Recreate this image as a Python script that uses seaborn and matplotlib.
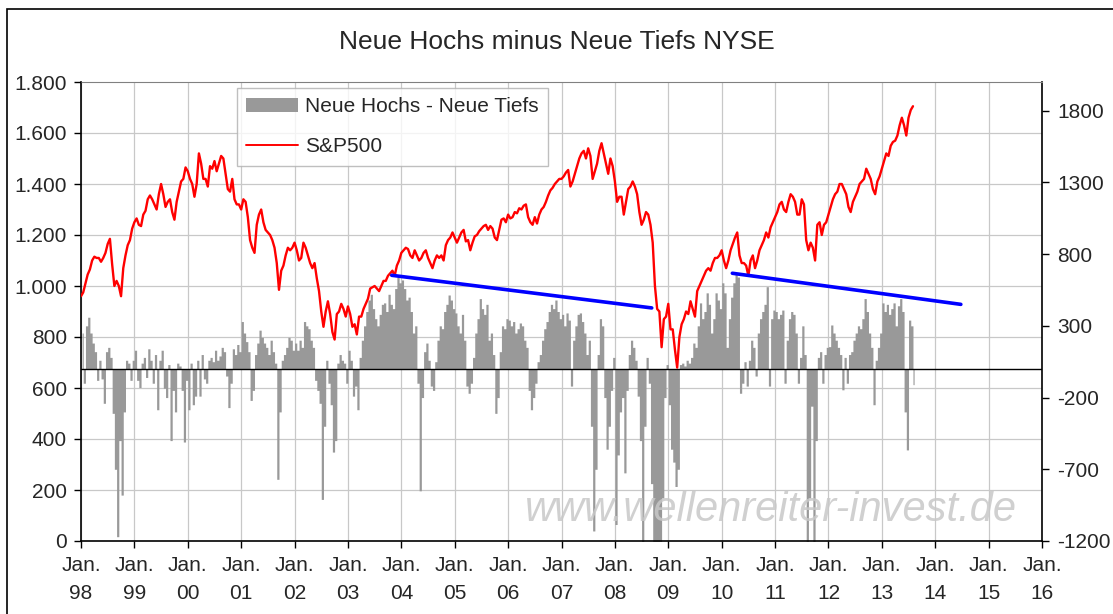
import numpy as np
import matplotlib
matplotlib.use("Agg")
import matplotlib.pyplot as plt
import seaborn as sns
from matplotlib.patches import Patch, Rectangle
from matplotlib.lines import Line2D

# S&P500, two readings per month (1st / 16th), Jan 1998 - Aug 2013
sp500 = [
    # 1998
    960, 975, 1010, 1045, 1065, 1100, 1115, 1110, 1110, 1095, 1110, 1130,
    1165, 1185, 1085, 1000, 1020, 1000, 960, 1070, 1120, 1160, 1180, 1225,
    # 1999
    1250, 1265, 1240, 1235, 1280, 1295, 1340, 1355, 1340, 1320, 1300, 1360,
    1400, 1360, 1310, 1330, 1340, 1290, 1260, 1330, 1370, 1410, 1420, 1465,
    # 2000
    1450, 1420, 1400, 1350, 1400, 1520, 1480, 1420, 1420, 1390, 1470, 1460,
    1490, 1450, 1480, 1510, 1500, 1440, 1380, 1370, 1420, 1340, 1320, 1320,
    # 2001
    1300, 1340, 1330, 1270, 1180, 1150, 1130, 1240, 1280, 1300, 1250, 1220,
    1210, 1200, 1180, 1150, 1090, 985, 1060, 1080, 1120, 1150, 1140, 1150,
    # 2002
    1170, 1140, 1100, 1110, 1170, 1150, 1120, 1090, 1070, 1090, 1030, 980,
    900, 840, 900, 940, 890, 820, 790, 890, 900, 930, 910, 880,
    # 2003
    920, 890, 840, 850, 810, 880, 880, 910, 930, 950, 990, 995,
    1000, 990, 980, 1000, 1020, 1020, 1040, 1050, 1060, 1040, 1080, 1100,
    # 2004
    1130, 1140, 1150, 1145, 1120, 1110, 1140, 1120, 1100, 1110, 1130, 1140,
    1110, 1090, 1070, 1100, 1120, 1110, 1120, 1100, 1160, 1180, 1190, 1210,
    # 2005
    1190, 1170, 1190, 1210, 1220, 1175, 1180, 1140, 1170, 1195, 1200, 1215,
    1225, 1235, 1240, 1220, 1235, 1225, 1190, 1180, 1220, 1260, 1265, 1250,
    # 2006
    1280, 1265, 1270, 1290, 1285, 1305, 1300, 1315, 1320, 1270, 1250, 1240,
    1270, 1245, 1280, 1300, 1310, 1330, 1355, 1375, 1385, 1400, 1410, 1420,
    # 2007
    1420, 1430, 1445, 1455, 1390, 1410, 1440, 1470, 1500, 1520, 1530, 1500,
    1540, 1510, 1420, 1450, 1480, 1530, 1560, 1520, 1480, 1440, 1500, 1470,
    # 2008
    1410, 1330, 1350, 1350, 1280, 1330, 1380, 1390, 1410, 1390, 1360, 1290,
    1240, 1260, 1290, 1280, 1240, 1170, 1000, 910, 900, 760, 870, 880,
    # 2009
    930, 830, 830, 750, 680, 800, 850, 870, 900, 890, 940, 910,
    880, 980, 1000, 1020, 1040, 1060, 1070, 1060, 1090, 1110, 1110, 1120,
    # 2010
    1140, 1100, 1070, 1100, 1140, 1165, 1190, 1210, 1120, 1090, 1090, 1080,
    1040, 1100, 1120, 1070, 1100, 1140, 1160, 1180, 1210, 1190, 1230, 1250,
    # 2011
    1270, 1290, 1320, 1330, 1300, 1290, 1330, 1360, 1350, 1330, 1280, 1280,
    1340, 1320, 1180, 1140, 1170, 1150, 1100, 1240, 1250, 1200, 1240, 1250,
    # 2012
    1280, 1310, 1340, 1360, 1370, 1400, 1400, 1380, 1360, 1310, 1290, 1330,
    1350, 1370, 1400, 1410, 1420, 1460, 1440, 1420, 1380, 1360, 1410, 1430,
    # 2013 (Jan - early Aug)
    1460, 1490, 1520, 1510, 1550, 1565, 1570, 1590, 1630, 1660, 1630, 1590,
    1660, 1690, 1705,
]

# Neue Hochs minus Neue Tiefs (NYSE), same half-month grid
nh_nl = [
    # 1998
    250, -100, 300, 360, 250, 180, 120, -80, 60, -70, -240, 120,
    150, 80, -310, -700, -1170, -500, -880, -300, 60, 40, -80, 60,
    # 1999
    130, -80, -130, 40, 80, -60, 140, 60, -100, 100, -285, 60,
    130, -135, -200, 30, -500, -150, -300, 40, 20, -150, -510, -80,
    # 2000
    -285, 40, -250, -190, 60, -190, 100, -70, -100, 60, 80, 50,
    130, 60, 90, 150, 120, -50, -270, -100, 140, 100, 170, 120,
    # 2001
    330, 250, 190, 120, -220, -150, 100, 180, 270, 220, 180, 150,
    100, 200, 120, 40, -770, -300, 60, 100, 150, 220, 200, 130,
    # 2002
    180, 130, 200, 150, 330, 300, 280, 200, 150, -80, -150, -240,
    -910, -400, 60, -100, -250, -580, -500, 40, 100, 60, 40, -100,
    # 2003
    130, 60, -190, -120, -285, 80, 200, 300, 400, 480, 520, 420,
    350, 300, 380, 450, 460, 400, 520, 450, 420, 560, 640, 600,
    # 2004
    620, 560, 480, 500, 400, 250, 300, -100, -850, -200, 120, 180,
    60, -120, -150, 50, 200, 300, 280, 400, 450, 515, 480, 420,
    # 2005
    390, 300, 250, 380, 200, -120, -170, -100, 80, 250, 350, 490,
    420, 380, 450, 200, 250, 100, -310, -200, 120, 300, 280, 350,
    # 2006
    340, 300, 330, 250, 280, 320, 300, 200, 150, -150, -285, -200,
    -100, 50, 100, 200, 280, 330, 400, 450, 420, 480, 400, 350,
    # 2007
    380, 300, 390, 340, -120, 200, 300, 380, 390, 330, 250, 100,
    200, -400, -1130, -700, 100, 350, 300, -200, -560, -400, -150, 80,
    # 2008
    -1085, -600, -300, -200, -725, -150, 100, 200, 150, 60, -190, -500,
    -1250, -400, 80, -100, -800, -1400, -1500, -1400, -1500, -900, -200, 30,
    # 2009
    -250, -560, -650, -820, -700, 30, 40, 20, 60, 40, 80, 180,
    150, 300, 460, 350, 400, 530, 450, 250, 350, 530, 480, 420,
    # 2010
    600, 530, 150, 350, 500, 600, 660, 640, -170, -100, 50, -120,
    60, 200, 150, -50, 250, 350, 400, 450, 573, -120, 350, 410,
    # 2011
    400, 350, 380, 410, -100, 200, 350, 400, 380, 250, -100, 80,
    300, 100, -1400, -900, -260, -1400, -500, 80, 120, -100, 100, 150,
    # 2012
    155, 306, 250, 200, 150, 100, -146, 80, -100, 100, 120, 200,
    250, 300, 280, 350, 490, 400, 250, 150, -250, 60, 150, 250,
    # 2013 (Jan - early Aug)
    460, 400, 450, 380, 420, 460, 300, 440, 490, 400, -300, -565,
    340, 300, -110,
]

# trend lines (decimal year, S&P scale)
trend1_x = [2003.82, 2008.69]
trend1_y = [1042, 914]
trend2_x = [2010.2, 2014.48]
trend2_y = [1050, 928]

year_ticks = list(range(1998, 2017))
left_ticks = [0, 200, 400, 600, 800, 1000, 1200, 1400, 1600, 1800]
right_ticks = [-1200, -700, -200, 300, 800, 1300, 1800]

sns.set_style("white")
plt.rcParams["font.family"] = ["Liberation Sans", "DejaVu Sans"]

t = 1998 + np.arange(len(sp500)) / 24.0
tb = 1998 + np.arange(len(nh_nl)) / 24.0 + 1 / 48.0

fig = plt.figure(figsize=(11.13, 6.14), dpi=100)
ax = fig.add_axes([81 / 1113, 1 - 541 / 614, (1042 - 81) / 1113, (541 - 82) / 614])
ax2 = ax.twinx()

# half-month bars on the base axis (right scale), drawn as a stepped fill
# so neighbouring bars touch without hairline gaps
ax.fill_between(tb, nh_nl, 0, step="mid", color="#999999", linewidth=0, zorder=2)
ax.axhline(0, color="black", lw=1.0, zorder=3)
ax.set_ylim(-1200, 2000)
ax.set_xlim(1998, 2016)
ax.yaxis.tick_right()
ax.set_yticks(right_ticks)
ax.set_yticklabels([str(v) for v in right_ticks])
grid_pos = [-1200 + v * 3200 / 1800 for v in left_ticks[1:-1]]
ax.set_yticks(grid_pos, minor=True)
ax.grid(which="minor", axis="y", color="#c8c8c8", lw=0.9)
ax.grid(which="major", axis="x", color="#c8c8c8", lw=0.9)
ax.grid(which="major", axis="y", visible=False)
ax.set_axisbelow(True)
ax.set_xticks(year_ticks)
ax.set_xticklabels(["Jan.\n%02d" % (y % 100) for y in year_ticks])
for lbl in ax.get_xticklabels():
    lbl.set_linespacing(1.6)
ax.tick_params(axis="y", which="minor", length=0)
ax.tick_params(axis="both", which="major", direction="out", length=5, width=1,
               color="black", labelsize=15, pad=6, bottom=True, right=True, left=False)
for side in ["left", "bottom", "right"]:
    ax.spines[side].set_color("black")
    ax.spines[side].set_linewidth(1.2)
ax.spines["top"].set_color("#808080")

# S&P500 on the twin axis (left scale), drawn above the bars
sns.lineplot(x=t, y=sp500, ax=ax2, color="#ff0000", lw=1.7)
sns.lineplot(x=trend1_x, y=trend1_y, ax=ax2, color="#0000ff", lw=2.6)
sns.lineplot(x=trend2_x, y=trend2_y, ax=ax2, color="#0000ff", lw=2.6)
ax2.set_ylim(0, 1800)
ax2.yaxis.tick_left()
ax2.set_yticks(left_ticks)
ax2.set_yticklabels([f"{v:,.0f}".replace(",", ".") for v in left_ticks])
ax2.tick_params(axis="y", direction="out", length=5, width=1, color="black",
                labelsize=15, pad=5, left=True, right=False)
for s in ax2.spines.values():
    s.set_visible(False)
ax2.set_xlim(1998, 2016)

# watermark
ax2.text(0.718, 0.068, "www.wellenreiter-invest.de", transform=ax2.transAxes,
         ha="center", va="center", fontsize=30, style="italic",
         color="#c8c8c8", alpha=0.85, zorder=5)

handles = [Patch(facecolor="#999999", edgecolor="none"),
           Line2D([0], [0], color="#ff0000", lw=1.4)]
leg = ax2.legend(handles, ["Neue Hochs - Neue Tiefs", "S&P500"],
                 loc="upper left", bbox_to_anchor=(0.162, 0.987),
                 borderaxespad=0, fontsize=15, frameon=True, fancybox=False,
                 handlelength=2.5, handletextpad=0.35, borderpad=0.45,
                 labelspacing=1.0)
leg.get_frame().set_edgecolor("#b0b0b0")
leg.get_frame().set_linewidth(1.0)

fig.text(557 / 1113, 1 - 42 / 614, "Neue Hochs minus Neue Tiefs NYSE",
         ha="center", va="center", fontsize=19)

fig.patches.append(Rectangle((7 / 1113, -0.1), 1.2, 1.1 - 9 / 614,
                             transform=fig.transFigure, fill=False,
                             edgecolor="black", lw=1.2))

fig.savefig("out.png", dpi=100)
